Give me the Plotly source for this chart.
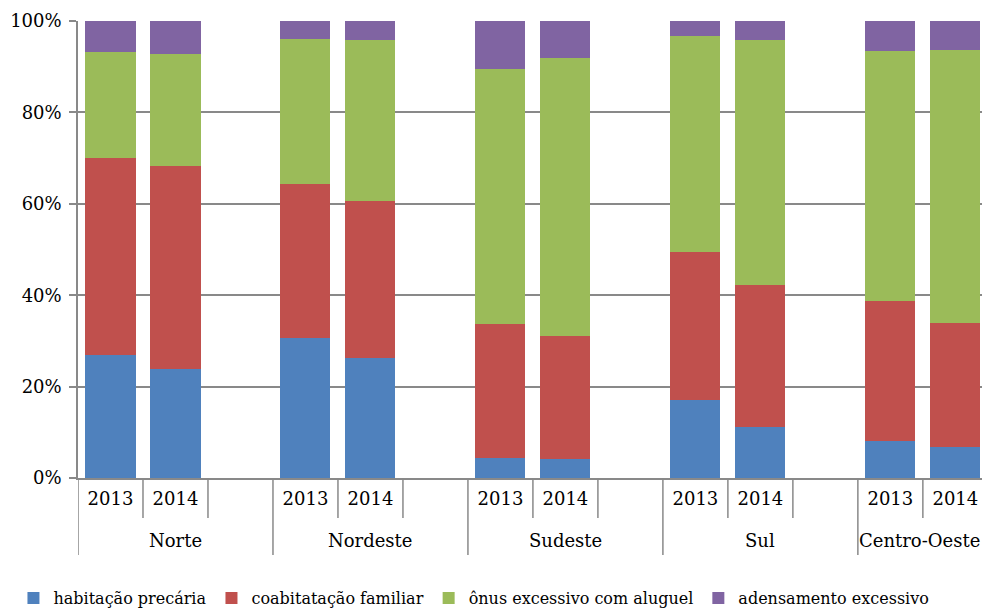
import plotly.graph_objects as go

# Regions and years; each region occupies three slots (two years + a blank one)
regions = ["Norte", "Nordeste", "Sudeste", "Sul", "Centro-Oeste"]
years = ["2013", "2014"]

# Share of each component of the housing deficit (%), per region and year
habitacao_precaria = [26.9, 23.9, 30.7, 26.3, 4.3, 4.1, 17.1, 11.2, 8.2, 6.7]
coabitacao_familiar = [43.1, 44.4, 33.6, 34.3, 29.3, 27.0, 32.4, 31.0, 30.6, 27.2]
onus_aluguel = [23.3, 24.5, 31.7, 35.2, 56.0, 60.7, 47.3, 53.6, 54.6, 59.7]
adensamento = [6.7, 7.2, 4.0, 4.2, 10.4, 8.2, 3.2, 4.2, 6.6, 6.4]

series = [
    ("habitação precária", habitacao_precaria, "#4F81BD"),
    ("coabitatação familiar", coabitacao_familiar, "#C0504D"),
    ("ônus excessivo com aluguel", onus_aluguel, "#9BBB59"),
    ("adensamento excessivo", adensamento, "#8064A2"),
]

SLOTS = 3
n_slots = SLOTS * len(regions)
XMIN, XMAX = -0.5, 13.41           # the last blank slot falls outside the view

# slot index of every bar, and the matching year labels
x_pos = [SLOTS * k + j for k in range(len(regions)) for j in range(len(years))]
x_text = [y for _ in regions for y in years]
slot_edges = [i - 0.5 for i in range(n_slots)]
group_edges = [SLOTS * k - 0.5 for k in range(len(regions))]

PLOT_H = 612 - 21 - 134            # plot-area height in pixels
GRID = "#898989"
FS = 18

fig = go.Figure()
for name, vals, color in series:
    fig.add_trace(go.Bar(
        x=x_pos, y=vals, name=name, width=0.77,
        marker=dict(color=color, line=dict(width=0)),
    ))

# category-axis dividers: short ones between slots, long ones between regions
for e in slot_edges:
    long = e in group_edges
    fig.add_shape(type="line", xref="x", yref="paper",
                  x0=e, x1=e, y0=0, y1=-(77 if long else 40) / PLOT_H,
                  line=dict(color=GRID, width=1.5), layer="above")

# region names centred under the visible part of each group
for k, r in enumerate(regions):
    lo = SLOTS * k - 0.5
    hi = min(SLOTS * k + SLOTS - 0.5, XMAX)
    fig.add_annotation(
        x=(lo + hi) / 2, xref="x", y=-62 / PLOT_H, yref="paper",
        text=r, showarrow=False, yanchor="middle",
    )

fig.update_layout(
    template="none",
    width=982, height=612,
    barmode="stack",
    paper_bgcolor="white", plot_bgcolor="white",
    margin=dict(l=78, r=0, t=21, b=134, autoexpand=False),
    font=dict(family="DejaVu Serif", size=FS, color="black"),
    showlegend=True,
    legend=dict(orientation="h", x=-0.0714, xanchor="left",
                y=-103 / PLOT_H, yanchor="top", itemwidth=30, traceorder="normal",
                font=dict(size=16)),
)

fig.update_xaxes(
    range=[XMIN, XMAX],
    tickmode="array", tickvals=x_pos, ticktext=x_text,
    ticks="", ticklabelstandoff=4,
    showline=True, linecolor=GRID, linewidth=1.5,
    showgrid=False, zeroline=False,
)
fig.update_yaxes(
    range=[0, 100], dtick=20, ticksuffix="%",
    showgrid=True, gridcolor=GRID, gridwidth=1.5,
    showline=True, linecolor=GRID, linewidth=1.5,
    ticks="outside", ticklen=7, tickcolor=GRID, tickwidth=1.5,
    ticklabelstandoff=4,
    zeroline=False,
)

fig.write_html("out.html")
